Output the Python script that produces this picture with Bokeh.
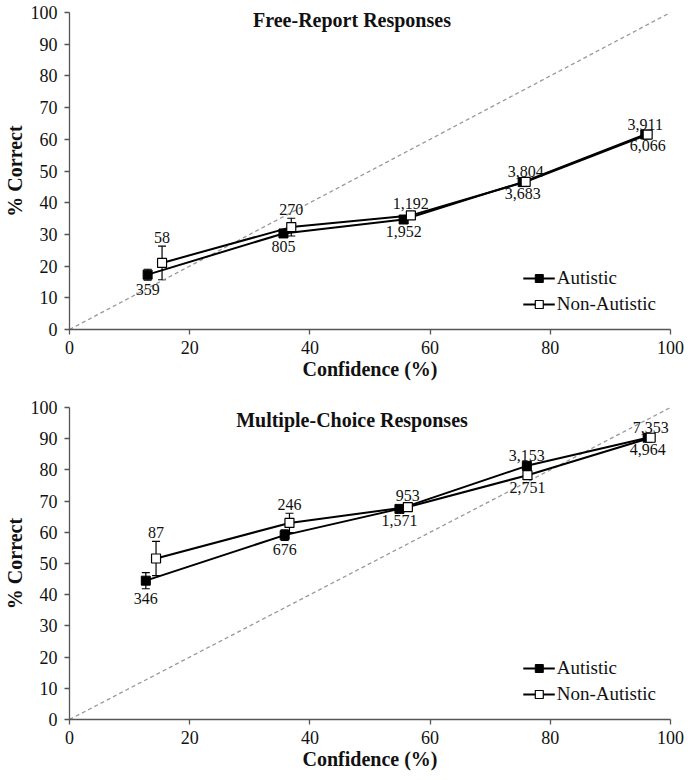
from bokeh.plotting import figure
from bokeh.models import (ColumnDataSource, Whisker, TeeHead, Label, Legend, LegendItem,
                          Range1d, SingleIntervalTicker)
from bokeh.layouts import column
from bokeh.core.properties import value
from bokeh.embed import file_html
from bokeh.resources import INLINE

# ---------------- data ----------------
# Free-report responses
fr_aut_conf = [13.0, 35.6, 55.6, 75.4, 95.8]
fr_aut_acc = [17.3, 30.3, 34.7, 46.5, 61.5]
fr_aut_err = [1.7, 1.0, 0.7, 0.6, 0.6]
fr_non_conf = [15.4, 36.9, 56.8, 75.9, 96.2]
fr_non_acc = [21.0, 32.3, 36.0, 46.6, 61.5]
fr_non_err = [5.3, 2.8, 1.0, 0.7, 0.5]
fr_upper_labels = ["58", "270", "1,192", "3,804", "3,911"]
fr_lower_labels = ["359", "805", "1,952", "3,683", "6,066"]

# Multiple-choice responses
mc_aut_conf = [12.7, 35.8, 54.9, 76.1, 96.2]
mc_aut_acc = [44.5, 59.1, 67.5, 81.3, 90.3]
mc_aut_err = [2.6, 1.7, 0.8, 0.7, 0.5]
mc_non_conf = [14.4, 36.6, 56.3, 76.2, 96.7]
mc_non_acc = [51.6, 63.0, 68.1, 78.3, 90.3]
mc_non_err = [5.5, 3.1, 1.0, 0.8, 0.6]
mc_upper_labels = ["87", "246", "953", "3,153", "7,353"]
mc_lower_labels = ["346", "676", "1,571", "2,751", "4,964"]

x_ticks_interval = 20
y_ticks_interval = 10
series_names = ["Autistic", "Non-Autistic"]

SERIF = "Liberation Serif"


def make_panel(title, aut_x, aut_y, aut_e, non_x, non_y, non_e, up_lab, lo_lab,
               height, border_top, title_y):
    p = figure(width=684, height=height, output_backend="svg", toolbar_location=None,
               x_range=Range1d(0, 100), y_range=Range1d(0, 100),
               min_border_left=60, min_border_right=14, min_border_top=border_top,
               min_border_bottom=5)
    p.outline_line_color = None
    p.xgrid.visible = False
    p.ygrid.visible = False
    p.background_fill_color = "white"

    # identity (perfect calibration) line
    p.line([0, 100], [0, 100], line_color="#999999", line_width=1.3, line_dash="4 3")

    src_a = ColumnDataSource(dict(x=aut_x, y=aut_y,
                                  lo=[y - e for y, e in zip(aut_y, aut_e)],
                                  hi=[y + e for y, e in zip(aut_y, aut_e)]))
    src_n = ColumnDataSource(dict(x=non_x, y=non_y,
                                  lo=[y - e for y, e in zip(non_y, non_e)],
                                  hi=[y + e for y, e in zip(non_y, non_e)]))

    for src in (src_a, src_n):
        w = Whisker(source=src, base="x", upper="hi", lower="lo", dimension="height",
                    line_color="black", line_width=1.2,
                    upper_head=TeeHead(size=8, line_color="black", line_width=1.2),
                    lower_head=TeeHead(size=8, line_color="black", line_width=1.2))
        p.add_layout(w)

    la = p.line("x", "y", source=src_a, line_color="black", line_width=2)
    ln = p.line("x", "y", source=src_n, line_color="black", line_width=2)
    sa = p.scatter("x", "y", source=src_a, marker="square", size=9,
                   fill_color="black", line_color="black")
    sn = p.scatter("x", "y", source=src_n, marker="square", size=9,
                   fill_color="white", line_color="black", line_width=1.2)

    # n labels: upper label above the highest error-bar end, lower below the lowest
    ux, uy, lx, ly = [], [], [], []
    for i in range(len(aut_x)):
        a_hi, n_hi = aut_y[i] + aut_e[i], non_y[i] + non_e[i]
        a_lo, n_lo = aut_y[i] - aut_e[i], non_y[i] - non_e[i]
        if n_hi >= a_hi:
            ux.append(non_x[i]); lx.append(aut_x[i])
        else:
            ux.append(aut_x[i]); lx.append(non_x[i])
        uy.append(max(a_hi, n_hi))
        ly.append(min(a_lo, n_lo))
    p.text(x=ux, y=uy, text=up_lab, text_align="center", text_baseline="bottom",
           y_offset=-3, text_font=value(SERIF), text_font_size="16px", text_color="#111111")
    p.text(x=lx, y=ly, text=lo_lab, text_align="center", text_baseline="top",
           y_offset=4, text_font=value(SERIF), text_font_size="16px", text_color="#111111")

    p.add_layout(Label(x=47.0, y=title_y, text=title, text_align="center",
                       text_baseline="middle", text_font=SERIF, text_font_style="bold",
                       text_font_size="20px", text_color="#111111"))

    legend = Legend(items=[LegendItem(label=series_names[0], renderers=[la, sa]),
                           LegendItem(label=series_names[1], renderers=[ln, sn])],
                    location="bottom_right", margin=14, padding=0, spacing=4,
                    glyph_width=32, glyph_height=20, label_standoff=2,
                    label_text_font=SERIF, label_text_font_size="19px",
                    label_text_color="#111111",
                    border_line_alpha=0, background_fill_alpha=0)
    p.add_layout(legend)

    for ax in (p.xaxis[0], p.yaxis[0]):
        ax.axis_line_color = "#555555"
        ax.axis_line_width = 1.3
        ax.major_tick_line_color = "#555555"
        ax.major_tick_line_width = 1.3
        ax.major_tick_out = 5
        ax.major_tick_in = 0
        ax.minor_tick_line_color = None
        ax.major_label_text_font = SERIF
        ax.major_label_text_font_size = "18px"
        ax.major_label_text_color = "#111111"
        ax.axis_label_text_font = SERIF
        ax.axis_label_text_font_style = "bold"
        ax.axis_label_text_font_size = "20px"
        ax.axis_label_text_color = "#111111"
    p.xaxis[0].ticker = SingleIntervalTicker(interval=x_ticks_interval)
    p.yaxis[0].ticker = SingleIntervalTicker(interval=y_ticks_interval)
    p.xaxis[0].axis_label = "Confidence (%)"
    p.yaxis[0].axis_label = "% Correct"
    p.xaxis[0].major_label_standoff = 6
    p.xaxis[0].axis_label_standoff = 1
    p.yaxis[0].major_label_standoff = 7
    p.yaxis[0].axis_label_standoff = 2
    return p


p1 = make_panel("Free-Report Responses", fr_aut_conf, fr_aut_acc, fr_aut_err,
                fr_non_conf, fr_non_acc, fr_non_err, fr_upper_labels, fr_lower_labels,
                height=382, border_top=12, title_y=97.5)
p2 = make_panel("Multiple-Choice Responses", mc_aut_conf, mc_aut_acc, mc_aut_err,
                mc_non_conf, mc_non_acc, mc_non_err, mc_upper_labels, mc_lower_labels,
                height=390, border_top=25, title_y=96.0)

layout = column(p1, p2, spacing=0)
open("out.html", "w").write(file_html(layout, INLINE))
